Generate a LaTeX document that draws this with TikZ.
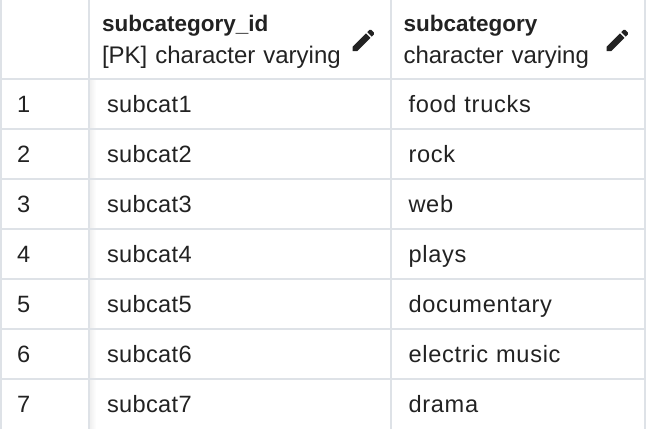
\documentclass[tikz,border=0pt]{standalone}
\usepackage{fontspec}
\setmainfont{Liberation Sans}
\newfontfamily\idfont[LetterSpace=1.4]{Liberation Sans}
\newfontfamily\namefont[LetterSpace=3]{Liberation Sans}
\definecolor{gridgray}{RGB}{222, 226, 231}
\definecolor{inkdark}{RGB}{34, 34, 34}
\usetikzlibrary{positioning}
\newcommand{\headtitle}[1]{{\fontsize{22.5}{31.5}\selectfont\bfseries #1}}
\tikzset{
  pencil/.pic={
    \fill[inkdark, x=1.2pt, y=-1.2pt, shift={(-12,-12)}]
      (3,17.25) -- (3,21) -- (6.75,21) -- (17.81,9.94) -- (14.06,6.19) -- cycle
      (20.71,7.04) -- (20.71,5.63) -- (18.37,3.29) -- (16.96,3.29) -- (15.13,5.12) -- (18.88,8.87) -- cycle;
  }
}

\begin{document}
\begin{tikzpicture}[node distance=0pt,
    headcell/.style={rectangle, anchor=west, outer sep=0pt, minimum height=78.7pt, inner ysep=0pt, inner xsep=13pt,
                     text height=21pt, text depth=35.7pt,
                     align=left, text=inkdark, font=\fontsize{24}{31.5}\selectfont},
    bodycell/.style={rectangle, outer sep=0pt, minimum height=50pt, inner ysep=0pt,
                     text height=20pt, text depth=3pt,
                     align=left, text=inkdark},
    idxcell/.style={bodycell, text width=56pt, inner xsep=16pt, font=\fontsize{23.6}{28}\selectfont\idfont},
    idcell/.style={bodycell, text width=265.5pt, inner xsep=18pt, font=\fontsize{23.6}{28}\selectfont\idfont},
    namecell/.style={bodycell, text width=218pt, inner xsep=18pt, font=\fontsize{23.6}{28}\selectfont\namefont},
    gridline/.style={draw=gridgray, line width=2pt}
  ]
    \useasboundingbox (0,0) rectangle (652pt,-428pt);

    % header row
    \node[rectangle, outer sep=0pt, minimum width=88pt, minimum height=78.7pt, inner sep=0pt, anchor=north west] (corner) at (1pt,0) {};
    \node[headcell, minimum width=301.5pt, text width=275.5pt, right=0pt of corner] (headid) {\headtitle{subcategory\_id}\\{}[PK] character varying};
    \node[headcell, minimum width=254pt, text width=228pt, right=0pt of headid] (headname) {\headtitle{subcategory}\\character varying};
    \pic at ([xshift=-27pt, yshift=-1pt]headid.east) {pencil};
    \pic at ([xshift=-27pt, yshift=-1pt]headname.east) {pencil};

    % first column
    \node[idxcell, below=of corner] (idx1) {1};
    \node[idxcell, below=of idx1] (idx2) {2};
    \node[idxcell, below=of idx2] (idx3) {3};
    \node[idxcell, below=of idx3] (idx4) {4};
    \node[idxcell, below=of idx4] (idx5) {5};
    \node[idxcell, below=of idx5] (idx6) {6};
    \node[idxcell, below=of idx6] (idx7) {7};

    % id column
    \node[idcell, right=of idx1] (id1) {subcat1};
    \node[idcell, right=of idx2] (id2) {subcat2};
    \node[idcell, right=of idx3] (id3) {subcat3};
    \node[idcell, right=of idx4] (id4) {subcat4};
    \node[idcell, right=of idx5] (id5) {subcat5};
    \node[idcell, right=of idx6] (id6) {subcat6};
    \node[idcell, right=of idx7] (id7) {subcat7};

    % name column
    \node[namecell, right=of id1] (name1) {food trucks};
    \node[namecell, right=of id2] (name2) {rock};
    \node[namecell, right=of id3] (name3) {web};
    \node[namecell, right=of id4] (name4) {plays};
    \node[namecell, right=of id5] (name5) {documentary};
    \node[namecell, right=of id6] (name6) {electric music};
    \node[namecell, right=of id7] (name7) {drama};

    % shadow of the first column
    \shade[left color=gray!14, right color=white, draw=none] (idx1.north east) rectangle ([xshift=7pt]idx7.south east);

    % grid
    \draw[gridline] (corner.north west) -- (idx7.south west);
    \draw[gridline] (corner.north east) -- (idx7.south east);
    \draw[gridline] (headid.north east) -- (id7.south east);
    \draw[gridline] (headname.north east) -- (name7.south east);
    \draw[gridline] (idx1.north west) -- (name1.north east);
    \draw[gridline] (idx2.north west) -- (name2.north east);
    \draw[gridline] (idx3.north west) -- (name3.north east);
    \draw[gridline] (idx4.north west) -- (name4.north east);
    \draw[gridline] (idx5.north west) -- (name5.north east);
    \draw[gridline] (idx6.north west) -- (name6.north east);
    \draw[gridline] (idx7.north west) -- (name7.north east);
  \end{tikzpicture}
\end{document}
